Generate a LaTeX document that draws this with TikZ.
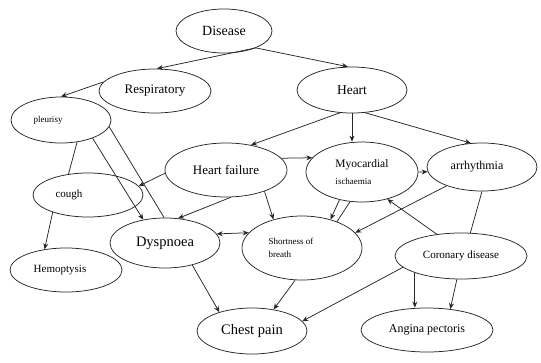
\documentclass[tikz,border=0pt]{standalone}
\usepackage{fontspec}
\setmainfont{Liberation Serif}
\usetikzlibrary{shapes.geometric,arrows.meta}
\tikzset{
  ell/.style={ellipse, draw=black!85, line width=0.75pt, inner sep=0pt},
  edge/.style={draw=black!85, line width=0.75pt},
  arr/.style={edge, -{Stealth[length=6pt,width=5pt]}},
  darr/.style={edge, {Stealth[length=6pt,width=5pt]}-{Stealth[length=6pt,width=5pt]}},
}
\newcommand{\fs}[1]{\fontsize{#1}{#1}\selectfont}
\begin{document}
\begin{tikzpicture}[x=1pt,y=-1pt]
\useasboundingbox (0,0) rectangle (541,362);
% nodes
\node[ell, minimum width=96pt, minimum height=44pt, font=\fs{14}] (dis) at (224,31) {Disease};
\node[ell, minimum width=112pt, minimum height=44pt, font=\fs{13}] (resp) at (155,91) {Respiratory};
\node[ell, minimum width=110pt, minimum height=46pt, font=\fs{13.5}] (heart) at (352,90) {Heart};
\node[ell, minimum width=100pt, minimum height=46pt, label={[font=\fs{9}, xshift=-13pt]center:pleurisy}] (pl) at (61,120) {};
\node[ell, minimum width=110pt, minimum height=44pt, label={[font=\fs{11}, xshift=-19pt]center:cough}] (cough) at (88,195) {};
\node[ell, minimum width=112pt, minimum height=44pt, label={[font=\fs{11}, xshift=-6pt]center:Hemoptysis}] (hemo) at (66,270) {};
\node[ell, minimum width=110pt, minimum height=50pt, font=\fs{14.5}] (dysp) at (165,243) {Dyspnoea};
\node[ell, minimum width=110pt, minimum height=46pt, font=\fs{14.5}] (chest) at (252,331) {Chest pain};
\node[ell, minimum width=122pt, minimum height=54pt, font=\fs{13}] (hf) at (226,170) {Heart failure};
\node[ell, minimum width=112pt, minimum height=60pt, align=left, font=\fontsize{11.5}{17}\selectfont] (myo) at (362,172) {Myocardial\\{\fs{9}ischaemia}};
\node[ell, minimum width=110pt, minimum height=48pt, label={[font=\fs{12}, xshift=-5pt]center:arrhythmia}] (arr) at (482,167) {};
\node[ell, minimum width=120pt, minimum height=64pt, label={[font=\fontsize{9}{13}\selectfont, align=left, xshift=-11pt]center:Shortness of\\breath}] (short) at (302,248) {};
\node[ell, minimum width=132pt, minimum height=46pt, font=\fs{11}] (cor) at (461,256) {Coronary disease};
\node[ell, minimum width=132pt, minimum height=44pt, font=\fs{12}] (ang) at (427,330) {Angina pectoris};
% connectors
\draw[arr] (dis.-28) -- (resp.85);
\draw[arr] (dis.-28) -- (heart.100);
\draw[arr] (resp.170) -- (pl.north);
\draw[arr] (heart.242) -- (hf.45);
\draw[arr] (heart.south) -- (heart.south |- myo.north);
\draw[arr] (heart.-60) -- (arr.115);
\draw[arr] (hf.12) -- (myo.164);
\draw[arr] (myo.east) -- (arr.185);
\draw[edge] (pl.-54) -- (cough.133);
\draw[edge] (pl.-8) -- (dysp.92);
\draw[arr] (pl.-30) -- (dysp.133);
\draw[arr] (hf.183) -- (cough.10);
\draw[arr] (hf.-80) -- (dysp.62);
\draw[arr] (hf.-29) -- (short.135);
\draw[darr] (dysp.10) -- (short.164);
\draw[arr] (dysp.-39) -- (chest.150);
\draw[arr] (short.258) -- (chest.45);
\draw[arr] (myo.231) -- (short.45);
\draw[edge] (myo.248) -- (short.37);
\draw[arr] (arr.208) -- (short.16);
\draw[arr] (cor.138) -- (myo.-47);
\draw[edge] (arr.270) -- (cor.68);
\draw[arr] (cor.191) -- (chest.11);
\draw[arr] (cor.200) -- (cor.200 |- ang.north);
\draw[arr] (cor.260) -- (ang.42);
\draw[arr] (cough.206) -- (hemo.136);
\end{tikzpicture}
\end{document}
